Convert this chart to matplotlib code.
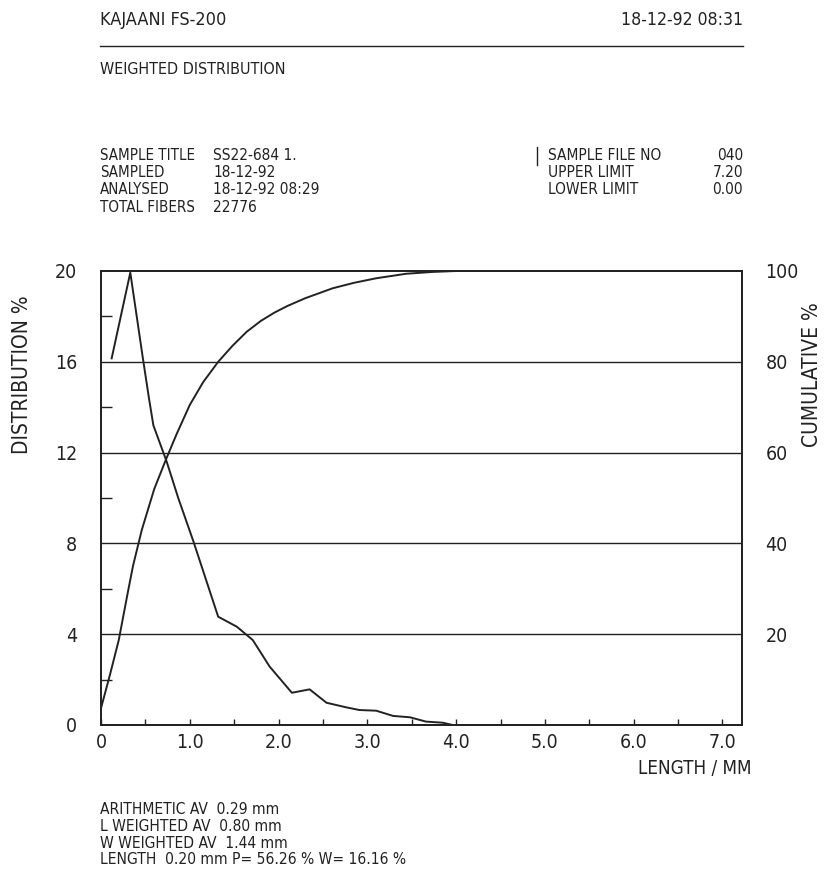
import matplotlib
matplotlib.use("Agg")
import matplotlib.pyplot as plt
from matplotlib import font_manager
from matplotlib.lines import Line2D

# fibre length distribution (length mm, weighted %)
dist_len = [0.12, 0.33, 0.47, 0.54, 0.59, 0.74, 0.87, 1.04, 1.32, 1.53, 1.71, 1.90,
            2.15, 2.35, 2.54, 2.76, 2.91, 3.10, 3.29, 3.48, 3.66, 3.85, 3.96]
dist_pct = [16.15, 19.93, 16.2, 14.4, 13.2, 11.6, 10.0, 8.1, 4.77, 4.33, 3.74, 2.57,
            1.42, 1.57, 0.98, 0.78, 0.66, 0.63, 0.40, 0.34, 0.15, 0.10, 0.0]

# cumulative curve (length mm, cumulative %)
cum_len = [0.0, 0.10, 0.20, 0.30, 0.36, 0.46, 0.60, 0.73, 0.85, 1.00, 1.15, 1.32,
           1.48, 1.64, 1.80, 1.95, 2.10, 2.30, 2.61, 2.85, 3.10, 3.44, 3.74, 4.00, 7.22]
cum_pct = [3.7, 11.0, 18.7, 29.0, 35.0, 43.0, 52.0, 58.4, 64.0, 70.5, 75.5, 80.0,
           83.5, 86.6, 89.0, 90.8, 92.3, 94.0, 96.2, 97.4, 98.4, 99.4, 99.8, 100.0, 100.0]

x_ticks = [0, 1, 2, 3, 4, 5, 6, 7]
x_labels = ['0', '1.0', '2.0', '3.0', '4.0', '5.0', '6.0', '7.0']
y_ticks = [0, 4, 8, 12, 16, 20]
y_labels = ['0', '4', '8', '12', '16', '20']
cum_ticks = [20, 40, 60, 80, 100]

header_left = ['SAMPLE TITLE', 'SAMPLED', 'ANALYSED', 'TOTAL FIBERS']
header_vals = ['SS22-684 1.', '18-12-92', '18-12-92 08:29', '22776']
right_names = ['SAMPLE FILE NO', 'UPPER LIMIT', 'LOWER LIMIT']
right_vals = ['040', '7.20', '0.00']
footer = ['ARITHMETIC AV  0.29 mm',
          'L WEIGHTED AV  0.80 mm',
          'W WEIGHTED AV  1.44 mm',
          'LENGTH  0.20 mm P= 56.26 % W= 16.16 %']

W, H = 827, 890
INK = '#222222'

# plotter lettering is narrow: use a condensed face when one is installed
has_cond = any(f.name == 'DejaVu Sans' and f.stretch == 'condensed'
               for f in font_manager.fontManager.ttflist)
plt.rcParams['font.family'] = ['DejaVu Sans']
if has_cond:
    plt.rcParams['font.stretch'] = 'condensed'
    FS = 12
else:
    FS = 10.5


def fx(x):
    return x / W


def fy(y):
    return 1 - y / H


fig = plt.figure(figsize=(W / 100, H / 100), dpi=100)
fig.patch.set_facecolor('white')

# header
fig.text(fx(100), fy(20), 'KAJAANI FS-200', fontsize=FS + 1, color=INK, va='center')
fig.text(fx(743), fy(20), '18-12-92 08:31', fontsize=FS + 0.6, color=INK, va='center', ha='right')
fig.add_artist(Line2D([fx(100), fx(743)], [fy(46), fy(46)], color=INK, lw=1.0))
fig.text(fx(100), fy(69), 'WEIGHTED DISTRIBUTION', fontsize=FS - 0.5, color=INK, va='center')

# sample block
BS = FS - 1.2
rows_y = [155, 172.5, 190, 207.5]
for name, val, yy in zip(header_left, header_vals, rows_y):
    fig.text(fx(100), fy(yy), name, fontsize=BS, color=INK, va='center')
    fig.text(fx(213), fy(yy), val, fontsize=BS + 0.3, color=INK, va='center')
for name, val, yy in zip(right_names, right_vals, rows_y):
    fig.text(fx(548), fy(yy), name, fontsize=BS + 0.3, color=INK, va='center')
    fig.text(fx(743), fy(yy), val, fontsize=BS + 0.3, color=INK, va='center', ha='right')
fig.add_artist(Line2D([fx(537), fx(537)], [fy(147), fy(165)], color=INK, lw=1.0))

# plot area
ax = fig.add_axes([fx(101), fy(725), fx(742) - fx(101), fy(271) - fy(725)])
ax.set_xlim(0, 7.22)
ax.set_ylim(0, 20)
for s in ax.spines.values():
    s.set_color(INK)
    s.set_linewidth(1.3)

for g in [4, 8, 12, 16]:
    ax.axhline(g, color=INK, lw=1.0)

ax.plot(dist_len, dist_pct, color=INK, lw=1.4)

ax.set_xticks(x_ticks)
ax.set_xticklabels(x_labels, fontsize=FS + 2)
ax.set_xticks([0.5 + i for i in range(7)], minor=True)
ax.tick_params(axis='x', which='both', direction='in', length=4, width=1.0,
               color=INK, pad=6, labelcolor=INK)
ax.set_yticks(y_ticks)
ax.set_yticklabels(y_labels, fontsize=FS + 2)
ax.set_yticks([2, 6, 10, 14, 18], minor=True)
ax.tick_params(axis='y', which='major', length=0, pad=17, labelcolor=INK)
ax.tick_params(axis='y', which='minor', direction='in', length=8, width=1.0, color=INK)

ax2 = ax.twinx()
ax2.set_ylim(0, 100)
ax2.plot(cum_len, cum_pct, color=INK, lw=1.4)
ax2.set_yticks(cum_ticks)
ax2.set_yticklabels([str(t) for t in cum_ticks], fontsize=FS + 2)
ax2.tick_params(axis='y', length=0, pad=17, labelcolor=INK)
for s in ax2.spines.values():
    s.set_color(INK)
    s.set_linewidth(1.3)

# axis titles
fig.text(fx(22), fy(375), 'DISTRIBUTION %', rotation=90, fontsize=FS + 3, color=INK,
         ha='center', va='center')
fig.text(fx(812), fy(375), 'CUMULATIVE %', rotation=90, fontsize=FS + 3, color=INK,
         ha='center', va='center')
fig.text(fx(752), fy(768), 'LENGTH / MM', fontsize=FS + 1.5, color=INK, ha='right', va='center')

# footer
for i, line in enumerate(footer):
    fig.text(fx(100), fy(810 + 16.5 * i), line, fontsize=FS - 0.8, color=INK, va='center')

fig.savefig('out.png', dpi=100, facecolor='white')
